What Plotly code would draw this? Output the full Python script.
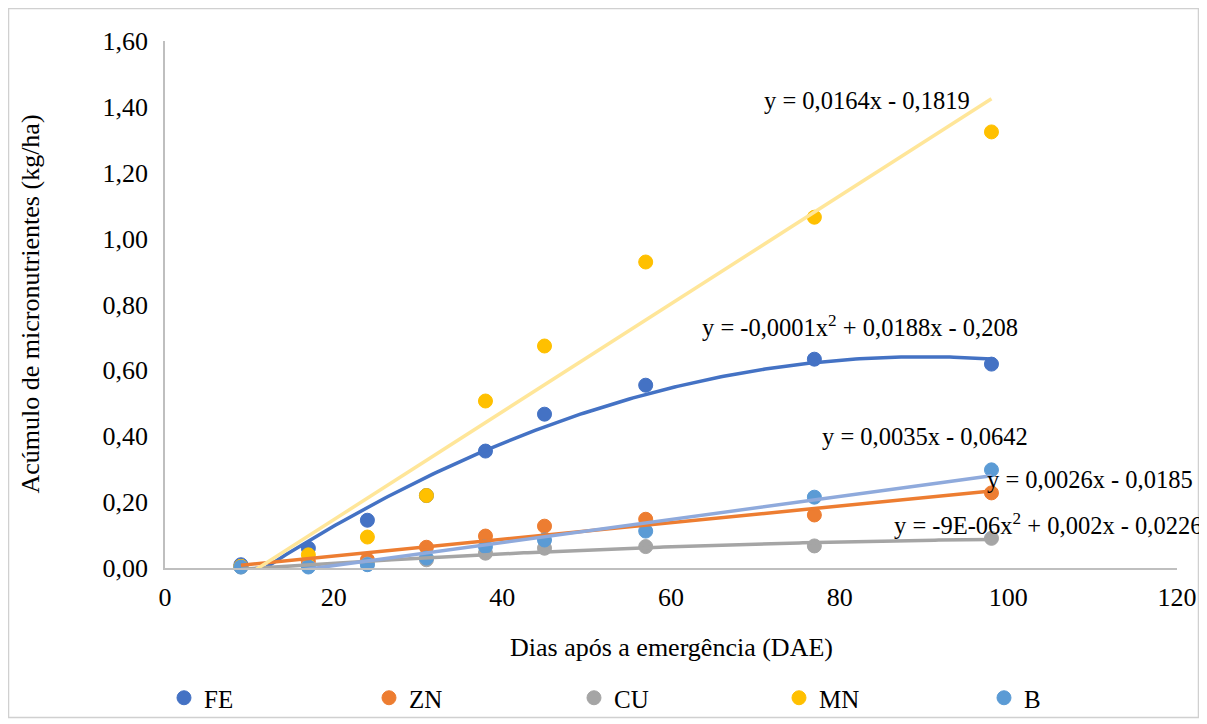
import numpy as np
import plotly.graph_objects as go

# ---- data ----
dae = [9, 17, 24, 31, 38, 45, 57, 77, 98]
fe = [0.010, 0.060, 0.145, 0.220, 0.355, 0.467, 0.555, 0.634, 0.619]
zn = [0.005, 0.020, 0.025, 0.063, 0.097, 0.127, 0.148, 0.161, 0.228]
cu = [0.003, 0.006, 0.012, 0.025, 0.045, 0.060, 0.065, 0.067, 0.090]
mn = [0.005, 0.040, 0.094, 0.220, 0.507, 0.674, 0.929, 1.065, 1.324]
b = [0.003, 0.003, 0.010, 0.030, 0.065, 0.085, 0.112, 0.215, 0.298]

series_names = ["FE", "ZN", "CU", "MN", "B"]
trend_degree = [2, 1, 2, 1, 1]
equations = [
    "y = -0,0001x<sup>2</sup> + 0,0188x - 0,208",
    "y = 0,0026x - 0,0185",
    "y = -9E-06x<sup>2</sup> + 0,002x - 0,0226",
    "y = 0,0164x - 0,1819",
    "y = 0,0035x - 0,0642",
]

y_tickvals = [0, 0.2, 0.4, 0.6, 0.8, 1.0, 1.2, 1.4, 1.6]
y_ticktext = ["0,00", "0,20", "0,40", "0,60", "0,80", "1,00", "1,20", "1,40", "1,60"]
x_tickvals = [0, 20, 40, 60, 80, 100, 120]

# ---- styles ----
marker_colors = ["#4472C4", "#ED7D31", "#A5A5A5", "#FFC000", "#5B9BD5"]
trend_colors = ["#4472C4", "#ED7D31", "#A5A5A5", "#FFE699", "#8FAADC"]
eq_pos = [(82.4, 0.735), (109.7, 0.27), (104.7, 0.134), (83.2, 1.42), (90.1, 0.398)]

FONT = "Liberation Serif"
values = [fe, zn, cu, mn, b]

W, H = 1199, 716
L, T, R, B = 157, 33, 30, 156
PW, PH = W - L - R, H - T - B

fig = go.Figure()

# markers
for name, ys, col in zip(series_names, values, marker_colors):
    fig.add_trace(go.Scatter(
        x=dae, y=ys, mode="markers", name=name,
        marker=dict(color=col, size=14, line=dict(color=col, width=1)),
        cliponaxis=False,
    ))

# trendlines (least-squares fit of the data, as the spreadsheet did)
xs = np.linspace(min(dae), max(dae), 200)
for ys, deg, col in zip(values, trend_degree, trend_colors):
    coef = np.polyfit(dae, ys, deg)
    fig.add_trace(go.Scatter(
        x=xs, y=np.polyval(coef, xs), mode="lines", showlegend=False,
        line=dict(color=col, width=3.5), hoverinfo="skip",
    ))

# equation labels
for (ex, ey), txt in zip(eq_pos, equations):
    fig.add_annotation(x=ex, y=ey, xref="x", yref="y", text=txt, showarrow=False,
                       xanchor="center", yanchor="middle",
                       font=dict(family=FONT, size=24.5, color="#000000"))

# axis titles
fig.add_annotation(x=0.5, y=-79 / PH, xref="paper", yref="paper",
                   text="Dias após a emergência (DAE)", showarrow=False,
                   xanchor="center", yanchor="middle",
                   font=dict(family=FONT, size=26, color="#000000"))
fig.add_annotation(x=(22 - L) / PW, y=0.5, xref="paper", yref="paper",
                   text="Acúmulo de micronutrientes (kg/ha)", showarrow=False,
                   textangle=-90, xanchor="center", yanchor="middle",
                   font=dict(family=FONT, size=26, color="#000000"))

# chart border (outer frame of the chart area)
fig.add_shape(type="rect", xref="paper", yref="paper",
              x0=(0.5 - L) / PW, x1=(1190.5 - L) / PW,
              y0=-(149.5) / PH, y1=(PH + T - 0.5) / PH,
              line=dict(color="#D0D0D0", width=1.5), fillcolor="rgba(0,0,0,0)")

fig.update_layout(
    width=W, height=H,
    margin=dict(l=L, r=R, t=T, b=B, autoexpand=False),
    paper_bgcolor="white", plot_bgcolor="white",
    font=dict(family=FONT, size=26, color="#000000"),
    showlegend=True,
    legend=dict(orientation="h", x=-0.001, xanchor="left", y=-130 / PH, yanchor="middle",
                entrywidth=160, entrywidthmode="pixels", bgcolor="rgba(0,0,0,0)",
                font=dict(family=FONT, size=25, color="#000000"),
                itemclick=False, itemdoubleclick=False),
    xaxis=dict(range=[0, 120], tickvals=x_tickvals, showgrid=False, zeroline=False,
               showline=True, linecolor="#BFBFBF", linewidth=1.5,
               ticks="outside", ticklen=5, tickcolor="rgba(0,0,0,0)",
               tickfont=dict(family=FONT, size=26, color="#000000")),
    yaxis=dict(range=[0, 1.6], tickvals=y_tickvals, ticktext=y_ticktext,
               showgrid=False, zeroline=False,
               showline=True, linecolor="#BFBFBF", linewidth=1.5,
               ticks="outside", ticklen=10, tickcolor="rgba(0,0,0,0)",
               tickfont=dict(family=FONT, size=26, color="#000000")),
)

fig.write_html("out.html")
